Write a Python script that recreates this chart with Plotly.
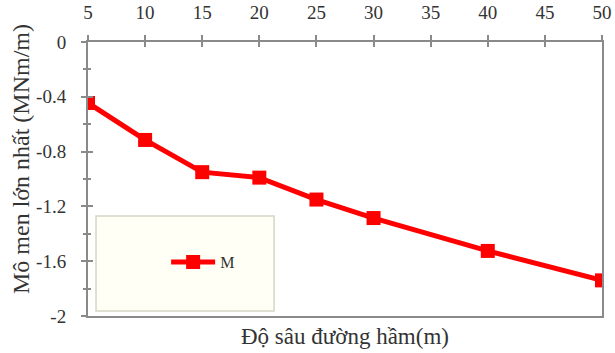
import plotly.graph_objects as go

depth = [5, 10, 15, 20, 25, 30, 40, 50]
moment = [-0.445, -0.715, -0.95, -0.99, -1.15, -1.285, -1.525, -1.74]
x_ticks = [5, 10, 15, 20, 25, 30, 35, 40, 45, 50]
y_ticks = [0, -0.4, -0.8, -1.2, -1.6, -2]
y_tick_text = ["0", "-0.4", "-0.8", "-1.2", "-1.6", "-2"]

FONT = "Liberation Serif"
AX = "#8a8a8a"

fig = go.Figure()
fig.add_trace(go.Scatter(
    x=depth, y=moment, mode="lines+markers", name="M",
    line=dict(color="#ff0000", width=5),
    marker=dict(symbol="square", size=14, color="#ff0000"),
))
# invisible trace for inside-tick axes
fig.add_trace(go.Scatter(x=depth, y=moment, mode="none", showlegend=False,
                         xaxis="x2", yaxis="y2", hoverinfo="skip"))

fig.update_layout(
    width=615, height=353,
    margin=dict(l=88, r=13, t=42, b=37),
    paper_bgcolor="white", plot_bgcolor="white",
    font=dict(family=FONT, size=19, color="#333"),
    showlegend=True,
    legend=dict(x=0.152, y=0.197, xanchor="left", yanchor="middle",
                bgcolor="rgba(0,0,0,0)", borderwidth=0,
                font=dict(family=FONT, size=16, color="#333"),
                itemwidth=44),
    xaxis=dict(range=[5, 50], side="top", tickvals=x_ticks,
               showgrid=False, zeroline=False, automargin=False,
               showline=True, linecolor=AX, linewidth=2, mirror=True,
               ticks="outside", ticklen=5, tickcolor=AX, tickwidth=1.5,
               ticklabelstandoff=8),
    yaxis=dict(range=[-2, 0], tickvals=y_ticks, ticktext=y_tick_text,
               showgrid=False, zeroline=False, automargin=False,
               showline=True, linecolor=AX, linewidth=2, mirror=True,
               ticks="outside", ticklen=5, tickcolor=AX, tickwidth=1.5,
               ticklabelstandoff=11,
               minor=dict(dtick=0.2, ticks="outside", ticklen=3, tickcolor=AX,
                          tick0=0, showgrid=False)),
    xaxis2=dict(range=[5, 50], overlaying="x", side="top", tickvals=x_ticks,
                showticklabels=False, showgrid=False, zeroline=False,
                automargin=False,
                ticks="inside", ticklen=5, tickcolor=AX, tickwidth=1.5),
    yaxis2=dict(range=[-2, 0], overlaying="y", tickvals=y_ticks,
                showticklabels=False, showgrid=False, zeroline=False,
                automargin=False,
                ticks="inside", ticklen=5, tickcolor=AX, tickwidth=1.5,
                minor=dict(dtick=0.2, ticks="inside", ticklen=3, tickcolor=AX,
                           tick0=0, showgrid=False)),
    shapes=[dict(type="rect", xref="paper", yref="paper",
                 x0=0.0156, x1=0.362, y0=0.018, y1=0.365,
                 line=dict(color="#d6d6c4", width=1.5),
                 fillcolor="#fffff6", layer="below")],
    annotations=[
        dict(text="Độ sâu đường hầm(m)", xref="paper", yref="paper",
             x=0.5, y=0, yshift=-6, xanchor="center", yanchor="top",
             showarrow=False, font=dict(family=FONT, size=23, color="#333")),
        dict(text="Mô men lớn nhất (MNm/m)", xref="paper", yref="paper",
             x=0, xshift=-67, y=0.573, xanchor="center", yanchor="middle",
             textangle=-90, showarrow=False,
             font=dict(family=FONT, size=24, color="#333")),
    ],
)

fig.write_html("out.html")
